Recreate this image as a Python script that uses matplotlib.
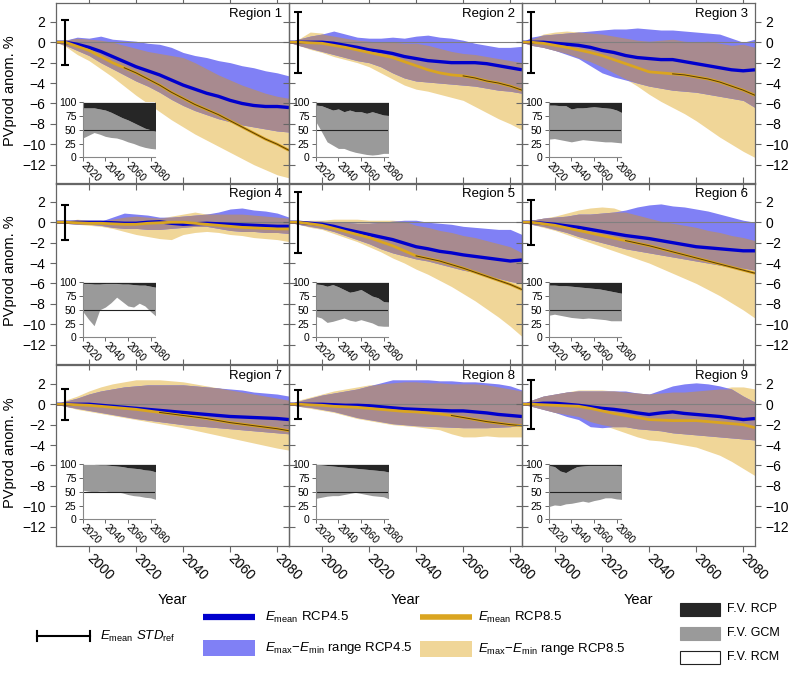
import numpy as np
import matplotlib
matplotlib.use("Agg")
from matplotlib import pyplot as plt
from matplotlib.patches import Rectangle

plt.rcParams['font.family'] = ['Liberation Sans', 'DejaVu Sans']
plt.rcParams['mathtext.fontset'] = 'custom'
plt.rcParams['mathtext.rm'] = 'Liberation Sans'
plt.rcParams['mathtext.it'] = 'Liberation Sans:italic'

# Years of the ensemble time series
years = [1986, 1990, 1995, 2000, 2005, 2010, 2015, 2020, 2025, 2030, 2035,
         2040, 2045, 2050, 2055, 2060, 2065, 2070, 2075, 2080, 2085]

regions = ["Region 1", "Region 2", "Region 3", "Region 4", "Region 5",
           "Region 6", "Region 7", "Region 8", "Region 9"]

# Ensemble mean RCP4.5 (one row per region)
mean45 = [
    [0, 0, -0.2, -0.5, -0.9, -1.4, -1.9, -2.4, -2.8, -3.2, -3.7, -4.2, -4.6, -5.0, -5.3, -5.7, -6.0, -6.2, -6.3, -6.3, -6.4],
    [0, 0, 0, 0, -0.1, -0.3, -0.5, -0.75, -0.9, -1.1, -1.4, -1.6, -1.8, -1.9, -2.0, -2.0, -2.0, -2.1, -2.3, -2.5, -2.7],
    [0, 0, 0, -0.1, -0.2, -0.3, -0.5, -0.8, -1.0, -1.3, -1.5, -1.6, -1.7, -1.7, -1.9, -2.1, -2.3, -2.5, -2.7, -2.8, -2.7],
    [0, 0, 0, 0, 0, -0.05, -0.1, -0.1, 0, 0.05, -0.1, -0.2, -0.15, -0.1, -0.15, -0.2, -0.25, -0.3, -0.35, -0.4, -0.4],
    [0, 0, -0.1, -0.2, -0.4, -0.7, -0.95, -1.2, -1.45, -1.7, -2.05, -2.4, -2.6, -2.85, -3.0, -3.2, -3.35, -3.5, -3.65, -3.8, -3.7],
    [0, 0, -0.1, -0.2, -0.35, -0.5, -0.7, -0.9, -1.1, -1.3, -1.45, -1.6, -1.8, -2.0, -2.2, -2.4, -2.5, -2.6, -2.7, -2.8, -2.8],
    [0, 0, 0, 0, -0.1, -0.2, -0.3, -0.4, -0.5, -0.6, -0.7, -0.8, -0.9, -1.0, -1.1, -1.2, -1.25, -1.3, -1.35, -1.4, -1.5],
    [0, 0, 0, 0, -0.05, -0.1, -0.1, -0.15, -0.25, -0.35, -0.45, -0.5, -0.55, -0.6, -0.65, -0.65, -0.75, -0.85, -1.0, -1.1, -1.2],
    [0, 0, 0.1, 0.1, 0.0, -0.1, -0.25, -0.4, -0.5, -0.65, -0.85, -1.0, -0.85, -0.75, -0.9, -1.0, -1.1, -1.2, -1.35, -1.5, -1.4],
]

# Ensemble mean RCP8.5
mean85 = [
    [0, 0, -0.4, -0.8, -1.4, -2.0, -2.5, -3.0, -3.6, -4.2, -4.9, -5.5, -6.1, -6.6, -7.1, -7.7, -8.3, -8.9, -9.5, -10.0, -10.6],
    [0, 0, -0.05, -0.1, -0.3, -0.5, -0.75, -1.0, -1.25, -1.5, -1.9, -2.3, -2.7, -3.0, -3.2, -3.3, -3.5, -3.8, -4.0, -4.3, -4.7],
    [0, 0, -0.1, -0.3, -0.5, -0.75, -1.0, -1.3, -1.7, -2.1, -2.5, -2.9, -3.0, -3.1, -3.2, -3.4, -3.6, -3.9, -4.3, -4.7, -5.2],
    [0, 0, -0.05, -0.1, -0.1, -0.15, -0.2, -0.2, -0.1, -0.05, 0, 0, -0.1, -0.2, -0.3, -0.4, -0.5, -0.55, -0.6, -0.65, -0.65],
    [0, 0, -0.15, -0.3, -0.6, -0.9, -1.2, -1.5, -1.9, -2.3, -2.8, -3.3, -3.55, -3.8, -4.15, -4.5, -4.9, -5.3, -5.7, -6.1, -6.6],
    [0, 0, -0.15, -0.3, -0.55, -0.8, -1.05, -1.3, -1.55, -1.8, -2.05, -2.3, -2.6, -2.9, -3.2, -3.5, -3.8, -4.1, -4.4, -4.7, -5.0],
    [0, 0, -0.05, -0.1, -0.2, -0.3, -0.4, -0.5, -0.65, -0.8, -0.95, -1.1, -1.25, -1.4, -1.6, -1.8, -1.95, -2.1, -2.25, -2.4, -2.6],
    [0, 0, -0.05, -0.1, -0.2, -0.25, -0.3, -0.4, -0.5, -0.6, -0.7, -0.75, -0.85, -0.95, -1.1, -1.3, -1.5, -1.7, -1.85, -2.0, -2.1],
    [0, 0, -0.05, -0.1, -0.15, -0.2, -0.4, -0.65, -0.9, -1.1, -1.3, -1.5, -1.55, -1.6, -1.6, -1.6, -1.7, -1.8, -1.9, -2.0, -2.3],
]

# Emax / Emin envelope RCP4.5
max45 = [
    [0, 0.2, 0.5, 0.4, 0.6, 0.3, 0.2, 0.1, -0.1, -0.2, -0.5, -1.0, -1.3, -1.5, -1.8, -2.0, -2.3, -2.5, -2.8, -3.0, -3.3],
    [0, 0.3, 0.6, 0.8, 1.1, 0.8, 0.5, 0.4, 0.4, 0.5, 0.4, 0.6, 0.7, 0.5, 0.4, 0.2, -0.1, -0.3, -0.5, -0.5, -0.4],
    [0, 0.5, 0.7, 0.8, 0.9, 1.0, 1.1, 1.2, 1.3, 1.3, 1.4, 1.3, 1.2, 1.2, 1.1, 1.0, 0.9, 0.8, 0.4, 0.0, 0.3],
    [0, 0.1, 0.2, 0.0, 0.1, 0.5, 0.9, 0.8, 0.7, 0.5, 0.5, 0.6, 0.7, 0.8, 1.0, 1.3, 1.4, 1.2, 1.1, 0.9, 0.5],
    [0, 0.1, 0.1, 0.1, 0.0, 0.0, -0.1, -0.1, 0.0, 0.1, 0.2, 0.2, 0.0, -0.1, -0.2, -0.4, -0.5, -0.6, -0.7, -0.7, -1.2],
    [0, 0.2, 0.4, 0.5, 0.6, 0.8, 0.8, 0.9, 1.0, 1.2, 1.5, 1.7, 1.8, 1.6, 1.5, 1.3, 1.1, 0.8, 0.5, 0.2, 0.0],
    [0, 0.3, 0.6, 1.0, 1.3, 1.5, 1.7, 1.8, 1.9, 1.9, 1.9, 1.9, 1.8, 1.7, 1.6, 1.5, 1.4, 1.2, 1.1, 1.0, 0.8],
    [0, 0.3, 0.6, 0.9, 1.1, 1.3, 1.5, 1.8, 2.1, 2.4, 2.4, 2.4, 2.4, 2.3, 2.3, 2.2, 2.2, 2.1, 2.0, 1.8, 1.4],
    [0, 0.4, 0.8, 1.0, 1.2, 1.3, 1.3, 1.3, 1.3, 1.3, 1.1, 1.0, 1.4, 1.8, 2.0, 2.1, 2.0, 1.8, 1.5, 0.8, 0.2],
]
min45 = [
    [0, -0.3, -0.8, -1.3, -2.0, -2.6, -3.2, -3.8, -4.3, -4.9, -5.6, -6.2, -6.7, -7.1, -7.5, -7.8, -8.1, -8.3, -8.5, -8.7, -8.8],
    [0, -0.3, -0.6, -0.9, -1.2, -1.5, -1.8, -2.0, -2.4, -3.0, -3.5, -3.8, -3.9, -4.0, -4.1, -4.2, -4.3, -4.5, -4.7, -4.8, -5.0],
    [0, -0.3, -0.5, -0.8, -1.2, -1.6, -2.3, -3.0, -3.4, -3.7, -4.0, -4.3, -4.5, -4.7, -4.8, -4.9, -5.1, -5.3, -5.5, -5.7, -6.4],
    [0, -0.1, -0.2, -0.2, -0.3, -0.5, -0.6, -0.6, -0.7, -0.7, -0.6, -0.5, -0.4, -0.4, -0.6, -0.8, -0.9, -0.9, -1.0, -1.0, -1.1],
    [0, -0.2, -0.4, -0.6, -0.9, -1.3, -1.7, -2.1, -2.6, -3.0, -3.3, -3.6, -3.8, -4.1, -4.4, -4.7, -4.9, -5.2, -5.5, -5.8, -6.0],
    [0, -0.2, -0.4, -0.7, -1.0, -1.4, -1.7, -2.0, -2.3, -2.6, -2.8, -3.0, -3.2, -3.4, -3.6, -3.8, -4.0, -4.2, -4.4, -4.5, -4.7],
    [0, -0.2, -0.4, -0.6, -0.8, -1.0, -1.2, -1.4, -1.55, -1.7, -1.85, -2.0, -2.1, -2.2, -2.3, -2.4, -2.5, -2.6, -2.7, -2.8, -2.9],
    [0, -0.2, -0.3, -0.5, -0.7, -1.0, -1.3, -1.5, -1.7, -1.9, -2.0, -2.1, -2.15, -2.2, -2.25, -2.3, -2.3, -2.3, -2.25, -2.2, -2.0],
    [0, -0.2, -0.5, -0.8, -1.2, -1.5, -2.2, -2.3, -2.2, -2.2, -2.4, -2.5, -2.6, -2.8, -2.9, -3.0, -3.1, -3.2, -3.3, -3.4, -3.5],
]

# Emax / Emin envelope RCP8.5
max85 = [
    [0, 0.2, 0.4, 0.3, 0.2, 0.0, -0.3, -0.6, -0.9, -1.1, -1.3, -1.5, -2.0, -2.6, -3.2, -3.7, -4.2, -4.6, -5.0, -5.3, -5.5],
    [0, 0.3, 1.0, 0.9, 0.6, 0.4, 0.2, 0.1, 0.0, 0.0, -0.1, -0.1, -0.3, -0.6, -0.9, -1.1, -1.2, -1.4, -1.6, -1.8, -2.0],
    [0, 0.3, 0.8, 1.0, 1.1, 1.0, 0.9, 0.8, 0.6, 0.4, 0.2, 0.1, 0.2, 0.3, 0.1, 0.0, 0.1, -0.1, -0.3, -0.2, -0.5],
    [0, 0.1, 0.3, 0.2, 0.2, 0.3, 0.5, 0.6, 0.5, 0.4, 0.6, 0.8, 1.0, 0.8, 0.8, 0.8, 0.8, 0.7, 0.6, 0.5, 0.4],
    [0, 0.1, 0.2, 0.2, 0.3, 0.3, 0.3, 0.2, 0.2, 0.2, 0.1, -0.3, -0.5, -0.8, -1.0, -1.3, -1.5, -1.8, -2.1, -2.4, -3.0],
    [0, 0.2, 0.4, 0.6, 0.9, 1.2, 1.4, 1.5, 1.4, 1.0, 0.7, 0.4, 0.1, -0.1, -0.3, -0.5, -0.8, -1.0, -1.3, -1.5, -1.8],
    [0, 0.4, 0.8, 1.3, 1.7, 2.0, 2.2, 2.4, 2.4, 2.4, 2.3, 2.2, 2.0, 1.8, 1.6, 1.4, 1.2, 1.0, 0.8, 0.6, 0.4],
    [0, 0.4, 0.7, 1.0, 1.3, 1.5, 1.7, 1.9, 2.0, 2.1, 2.2, 2.2, 2.1, 2.1, 2.0, 2.0, 2.0, 1.9, 1.7, 1.5, 1.3],
    [0, 0.4, 0.8, 1.0, 1.2, 1.4, 1.4, 1.4, 1.3, 1.2, 1.1, 1.0, 1.1, 1.2, 1.2, 1.3, 1.4, 1.5, 1.7, 1.7, 1.5],
]
min85 = [
    [0, -0.4, -1.2, -1.8, -2.6, -3.4, -4.3, -5.2, -6.0, -6.8, -7.6, -8.3, -9.0, -9.6, -10.2, -10.8, -11.4, -12.0, -12.5, -13.0, -13.3],
    [0, -0.3, -0.7, -1.0, -1.4, -1.7, -2.0, -2.4, -3.0, -3.6, -4.2, -4.6, -4.8, -5.1, -5.4, -5.7, -6.3, -6.9, -7.5, -8.0, -8.6],
    [0, -0.3, -0.5, -0.8, -1.1, -1.5, -1.9, -2.4, -3.0, -3.6, -4.3, -5.1, -5.8, -6.4, -7.0, -7.7, -8.5, -9.3, -10.0, -10.7, -11.3],
    [0, -0.1, -0.2, -0.3, -0.4, -0.6, -0.9, -1.2, -1.4, -1.6, -1.7, -1.2, -1.0, -0.9, -1.0, -1.2, -1.3, -1.5, -1.6, -1.7, -1.9],
    [0, -0.2, -0.5, -0.7, -1.1, -1.5, -1.9, -2.4, -2.9, -3.5, -4.0, -4.6, -5.1, -5.7, -6.3, -7.0, -7.7, -8.5, -9.3, -10.2, -11.2],
    [0, -0.2, -0.5, -0.8, -1.2, -1.6, -2.0, -2.4, -2.8, -3.2, -3.6, -4.0, -4.5, -5.0, -5.5, -6.0, -6.6, -7.2, -7.9, -8.6, -9.4],
    [0, -0.2, -0.5, -0.7, -0.9, -1.1, -1.3, -1.5, -1.7, -1.9, -2.1, -2.3, -2.55, -2.8, -3.05, -3.3, -3.55, -3.8, -4.05, -4.3, -4.5],
    [0, -0.2, -0.4, -0.6, -0.8, -1.1, -1.4, -1.6, -1.8, -2.0, -2.1, -2.2, -2.35, -2.5, -2.9, -3.2, -3.2, -3.1, -3.2, -3.2, -3.2],
    [0, -0.2, -0.5, -0.8, -1.0, -1.2, -1.7, -2.0, -2.4, -2.8, -3.2, -3.5, -3.6, -3.8, -4.0, -4.2, -4.6, -5.0, -5.6, -6.3, -7.0],
]

# STD of the reference period (error bar half length)
std_ref = [2.2, 3.0, 3.0, 1.7, 3.0, 2.2, 1.5, 1.4, 2.4]

# first year where the RCP8.5 mean gets the dark centre line (None = never)
sig_start = [2015, 2060, 2050, None, 2040, 2030, 2030, 2055, None]

# Fraction of variance (inset), in %
fv_years = [2020, 2025, 2030, 2035, 2040, 2045, 2050, 2055, 2060, 2065, 2070, 2075, 2080, 2085]
fv_rcm = [
    [35, 40, 45, 42, 38, 36, 35, 32, 28, 25, 21, 18, 16, 15],
    [65, 47, 28, 22, 16, 16, 12, 9, 7, 5, 4, 5, 7, 7],
    [33, 34, 32, 30, 28, 30, 32, 31, 30, 29, 28, 28, 27, 26],
    [47, 33, 21, 50, 55, 63, 73, 65, 57, 55, 62, 57, 47, 38],
    [38, 35, 27, 29, 32, 35, 31, 29, 32, 29, 26, 21, 20, 20],
    [40, 42, 40, 38, 36, 35, 34, 35, 34, 33, 32, 30, 30, 30],
    [53, 51, 50, 51, 51, 50, 50, 48, 45, 43, 42, 40, 39, 36],
    [38, 40, 42, 43, 43, 45, 47, 49, 47, 45, 43, 42, 41, 37],
    [23, 26, 25, 28, 29, 31, 33, 31, 34, 36, 39, 39, 37, 36],
]
fv_rcp = [
    [10, 10, 10, 12, 14, 18, 23, 28, 32, 37, 42, 47, 50, 53],
    [5, 6, 10, 14, 12, 17, 14, 17, 17, 20, 17, 20, 23, 24],
    [5, 5, 6, 6, 12, 10, 10, 9, 8, 9, 10, 11, 14, 19],
    [2, 2, 3, 3, 2, 2, 2, 3, 3, 4, 5, 5, 7, 9],
    [3, 4, 7, 4, 8, 13, 18, 16, 13, 19, 25, 28, 35, 36],
    [5, 5, 6, 6, 7, 8, 9, 10, 11, 12, 14, 16, 18, 20],
    [0, 0, 0, 1, 1, 2, 3, 4, 6, 7, 8, 10, 11, 14],
    [0, 1, 2, 3, 4, 5, 6, 7, 8, 9, 10, 11, 12, 14],
    [2, 4, 12, 15, 9, 4, 3, 2, 2, 2, 2, 2, 2, 3],
]

# Colours
c_line45 = '#0000cd'
c_range45 = '#8080f5'
c_line85 = '#daa520'
c_range85 = '#f0d698'
c_overlap = '#a88a8f'
c_sig = '#5a3c00'
c_rcp = '#262626'
c_gcm = '#9a9a9a'
c_spine = '#666666'

W, H = 788, 673
col_left = [56, 289, 522]
row_top = [3, 183, 365]
pw, ph = 233, 181


def px_box(x, y, w, h):
    """pixel box (top-left origin) -> figure fraction"""
    return [x / W, 1 - (y + h) / H, w / W, h / H]


def draw_inset(ax, k):
    ins = ax.inset_axes([0.115, 0.148, 0.31, 0.303])
    yr = np.array(fv_years)
    rcm = np.array(fv_rcm[k])
    top = 100 - np.array(fv_rcp[k])
    ins.fill_between(yr, 0, rcm, color='white', lw=0)
    ins.fill_between(yr, rcm, top, color=c_gcm, lw=0)
    ins.fill_between(yr, top, 100, color=c_rcp, lw=0)
    ins.axhline(50, color='#222222', lw=0.8)
    ins.set_xlim(2020, 2084)
    ins.set_ylim(0, 100)
    ins.set_xticks([2020, 2040, 2060, 2080])
    ins.set_yticks([0, 25, 50, 75, 100])
    ins.tick_params(labelsize=7.5, length=3, width=0.7, color=c_spine, pad=1.5)
    plt.setp(ins.get_xticklabels(), rotation=-45, ha='left', va='center',
             rotation_mode='anchor')
    for s in ins.spines.values():
        s.set_color('#888888')
        s.set_linewidth(0.8)
    ins.spines['top'].set_visible(False)
    ins.spines['right'].set_visible(False)


fig = plt.figure(figsize=(W / 100, H / 100), dpi=100)
x = np.array(years)

for k in range(9):
    r, c = divmod(k, 3)
    ax = fig.add_axes(px_box(col_left[c], row_top[r], pw, ph))
    ax.set_facecolor('none')

    lo45, hi45 = np.array(min45[k]), np.array(max45[k])
    lo85, hi85 = np.array(min85[k]), np.array(max85[k])
    ax.fill_between(x, lo85, hi85, color=c_range85, lw=0)
    ax.fill_between(x, lo45, hi45, color=c_range45, lw=0)
    lo = np.maximum(lo45, lo85)
    hi = np.minimum(hi45, hi85)
    ax.fill_between(x, lo, hi, where=hi > lo, interpolate=True, color=c_overlap, lw=0)

    ax.axhline(0, color='#808080', lw=0.8)
    ax.plot(x, mean45[k], color=c_line45, lw=2.4, solid_capstyle='butt')
    ax.plot(x, mean85[k], color=c_line85, lw=2.0, solid_capstyle='butt')
    if sig_start[k] is not None:
        m = x >= sig_start[k]
        ax.plot(x[m], np.array(mean85[k])[m], color=c_sig, lw=0.7)

    ax.errorbar([1990], [0], yerr=[std_ref[k]], color='black', lw=1.5,
                capsize=3, capthick=1.5)
    ax.text(0.97, 0.975, regions[k], transform=ax.transAxes, ha='right',
            va='top', fontsize=9.5)

    ax.set_xlim(1986, 2085)
    ax.set_ylim(-13.9, 3.85)
    ax.set_xticks([2000, 2020, 2040, 2060, 2080])
    ax.set_yticks([-12, -10, -8, -6, -4, -2, 0, 2])
    ax.tick_params(direction='out', length=4, width=0.8, color=c_spine,
                   labelsize=10, left=True, right=True, top=True, bottom=True,
                   labelleft=(c == 0), labelright=(c == 2),
                   labelbottom=(r == 2), labeltop=False)
    if r == 2:
        plt.setp(ax.get_xticklabels(), rotation=-45, ha='left', va='center',
                 rotation_mode='anchor')
    for s in ax.spines.values():
        s.set_color(c_spine)
        s.set_linewidth(0.9)

    draw_inset(ax, k)

# axis titles
for r in range(3):
    fig.text(10 / W, 1 - (row_top[r] + ph / 2 - 3) / H, 'PVprod anom. %',
             rotation=90, ha='center', va='center', fontsize=10.5)
for c in range(3):
    fig.text((col_left[c] + pw / 2) / W, 1 - 600 / H, 'Year',
             ha='center', va='center', fontsize=10.5)

# legend drawn in pixel coordinates
leg = fig.add_axes([0, 0, 1, 1])
leg.set_xlim(0, W)
leg.set_ylim(H, 0)
leg.axis('off')

leg.plot([37, 90], [636, 636], color='black', lw=1.5)
leg.plot([37, 37], [631, 641], color='black', lw=1.5)
leg.plot([90, 90], [631, 641], color='black', lw=1.5)
leg.text(100, 636, r'$E_{\mathrm{mean}}$ $STD_{\mathrm{ref}}$', va='center', fontsize=9.5)

leg.plot([203, 255], [617, 617], color=c_line45, lw=4.5, solid_capstyle='butt')
leg.text(265, 617, r'$E_{\mathrm{mean}}$ RCP4.5', va='center', fontsize=9.5)
leg.add_patch(Rectangle((203, 640), 52, 16, color=c_range45, lw=0))
leg.text(265, 648, r'$E_{\mathrm{max}}$$-$$E_{\mathrm{min}}$ range RCP4.5', va='center', fontsize=9.5)

leg.plot([420, 472], [617, 617], color=c_line85, lw=4.0, solid_capstyle='butt')
leg.text(478, 617, r'$E_{\mathrm{mean}}$ RCP8.5', va='center', fontsize=9.5)
leg.add_patch(Rectangle((420, 641), 52, 16, color=c_range85, lw=0))
leg.text(478, 649, r'$E_{\mathrm{max}}$$-$$E_{\mathrm{min}}$ range RCP8.5', va='center', fontsize=9.5)

leg.add_patch(Rectangle((680, 603), 40, 13, facecolor=c_rcp, edgecolor=c_rcp, lw=0.8))
leg.text(727, 609, 'F.V. RCP', va='center', fontsize=9)
leg.add_patch(Rectangle((680, 627), 40, 13, facecolor=c_gcm, edgecolor=c_gcm, lw=0.8))
leg.text(727, 633, 'F.V. GCM', va='center', fontsize=9)
leg.add_patch(Rectangle((680, 651), 40, 13, facecolor='white', edgecolor='#222222', lw=0.8))
leg.text(727, 657, 'F.V. RCM', va='center', fontsize=9)

fig.savefig('out.png', dpi=100)
